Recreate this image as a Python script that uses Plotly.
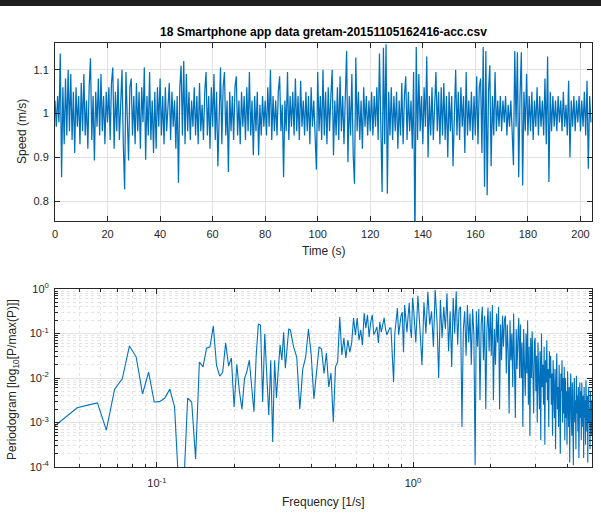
import numpy as np
import plotly.graph_objects as go

TITLE = "18 Smartphone app data gretam-20151105162416-acc.csv"

# ---- top panel: speed (m/s), sampled every DT seconds ----
DT = 0.5
speed = [
    1.03, 0.97, 1.04, 0.98, 1.137, 0.855, 1.06, 0.93, 1.08, 0.95, 1.10, 0.96, 1.09, 0.94, 1.05, 0.91, 1.06, 0.97, 1.04, 0.93,
    1.07, 0.96, 1.09, 0.95, 1.03, 0.92, 1.06, 1.126, 0.94, 1.04, 0.893, 1.05, 0.97, 1.08, 0.95, 1.09, 0.96, 1.04, 0.93, 1.05,
    0.98, 1.06, 0.94, 1.07, 1.105, 0.92, 1.05, 0.96, 1.08, 0.94, 1.02, 1.10, 0.93, 0.827, 1.095, 0.97, 0.893, 1.06, 1.08, 0.95,
    1.04, 0.93, 1.07, 0.96, 1.05, 0.92, 1.06, 0.98, 1.105, 0.895, 1.04, 0.95, 1.095, 0.94, 1.03, 0.91, 1.05, 0.92, 1.06, 0.97,
    1.08, 0.95, 1.04, 0.93, 1.06, 0.96, 1.02, 1.07, 0.94, 1.05, 0.97, 1.03, 0.92, 1.04, 0.842, 1.06, 1.109, 0.95, 1.12, 0.93,
    1.09, 0.96, 1.05, 0.94, 1.03, 0.97, 1.06, 0.95, 1.04, 0.93, 1.07, 0.96, 1.02, 0.94, 1.05, 1.095, 0.95, 1.04, 0.92, 1.06,
    0.97, 1.09, 0.94, 1.05, 0.88, 1.02, 1.105, 0.93, 1.06, 1.095, 0.95, 1.03, 0.867, 1.05, 0.96, 1.04, 0.94, 1.06, 1.085, 0.95,
    1.03, 0.93, 1.05, 0.97, 1.04, 0.94, 1.06, 0.96, 1.095, 0.95, 1.03, 0.905, 1.04, 0.96, 1.05, 0.905, 1.02, 0.95, 1.04, 0.97,
    1.03, 0.95, 1.06, 0.97, 1.10, 0.94, 1.04, 0.96, 1.03, 0.95, 1.05, 1.085, 0.96, 1.02, 0.855, 1.03, 0.96, 1.095, 0.94, 1.04,
    0.97, 1.05, 0.95, 1.08, 0.96, 1.04, 0.94, 1.075, 0.97, 1.03, 0.95, 1.05, 0.96, 1.04, 0.93, 1.06, 0.97, 1.03, 0.95, 0.872,
    1.095, 0.96, 1.04, 0.94, 1.10, 0.95, 1.05, 0.93, 1.06, 0.96, 1.04, 1.10, 0.905, 1.03, 0.95, 1.06, 0.94, 1.085, 0.96, 1.04,
    0.93, 1.05, 1.143, 0.889, 1.04, 0.95, 1.09, 0.905, 0.84, 1.128, 0.96, 1.05, 0.94, 1.03, 0.92, 1.06, 0.97, 1.04, 0.95, 1.03,
    0.96, 1.05, 0.95, 1.04, 0.97, 1.06, 0.94, 1.137, 0.96, 0.821, 1.15, 0.93, 1.158, 0.817, 1.05, 0.95, 1.06, 0.94, 1.04, 0.96,
    1.05, 0.92, 1.03, 0.95, 1.07, 0.93, 1.04, 1.085, 0.94, 1.05, 0.96, 1.03, 0.92, 1.095, 0.70, 1.152, 0.94, 1.09, 0.96, 1.04,
    0.93, 1.06, 0.97, 1.13, 0.90, 1.04, 0.95, 1.06, 0.94, 1.03, 1.095, 0.96, 1.05, 0.93, 1.06, 0.95, 1.07, 0.94, 1.04, 0.90,
    1.05, 0.96, 1.04, 0.88, 1.03, 1.10, 0.95, 1.05, 0.94, 1.06, 0.97, 1.04, 0.91, 1.095, 0.95, 1.03, 0.96, 1.05, 0.94, 1.04,
    0.95, 1.085, 0.93, 1.06, 1.08, 0.91, 1.152, 0.833, 1.143, 0.814, 1.05, 1.11, 0.88, 1.04, 0.95, 1.095, 0.96, 1.03, 0.97, 1.04,
    0.96, 1.03, 0.98, 1.04, 0.95, 1.02, 0.97, 1.03, 0.96, 0.882, 1.143, 0.97, 1.14, 0.855, 1.04, 1.14, 0.836, 1.05, 0.96, 1.09,
    0.95, 1.04, 0.96, 1.05, 0.94, 1.03, 0.97, 1.06, 0.95, 1.04, 0.97, 1.03, 0.95, 1.08, 0.93, 1.13, 0.844, 1.05, 0.96, 1.04,
    0.97, 1.03, 0.96, 1.04, 0.98, 1.03, 0.96, 1.05, 0.97, 1.02, 0.95, 1.075, 0.90, 1.03, 0.97, 1.04, 0.96, 1.03, 0.98, 1.04,
    0.96, 1.03, 0.97, 1.05, 0.95, 1.075, 0.874, 1.04, 0.98,
]
time_s = np.arange(len(speed)) * DT

# ---- bottom panel: periodogram, log10(P/max(P)) read per frequency bin ----
DF = 1 / 204.8
logp_low = [  # every bin, k = 8..67
    -3.12, -2.88, -2.67, -2.61, -2.56, -3.17, -2.25, -2.02, -1.28, -1.53,
    -2.36, -1.87, -2.54, -2.53, -2.45, -2.25, -2.65, -4.6, -4.6, -2.45,
    -2.54, -3.82, -1.64, -1.75, -1.33, -1.30, -0.83, -1.71, -1.96, -1.87,
    -1.21, -1.73, -1.55, -2.65, -1.69, -2.30, -2.70, -2.02, -1.85, -1.60,
    -2.20, -2.76, -1.50, -0.79, -0.81, -2.54, -1.01, -2.00, -2.83, -1.60,
    -3.44, -1.60, -2.45, -1.80, -1.26, -1.60, -0.97, -1.78, -1.30, -0.90,
]
logp_mid = [  # every 2nd bin, k = 68..204
    -0.92, -1.30, -1.53, -2.70, -1.80, -1.53, -0.90, -1.48, -2.47, -1.85,
    -1.30, -1.35, -1.90, -1.44, -2.20, -1.89, -2.99, -1.75, -1.64, -0.63,
    -1.48, -1.10, -1.55, -1.15, -1.42, -1.21, -0.65, -1.03, -0.65, -1.15,
    -0.92, -1.26, -0.54, -0.88, -0.58, -1.08, -0.75, -0.58, -1.03, -0.95,
    -0.85, -1.21, -0.74, -0.97, -0.80, -0.65, -0.90, -1.03, -0.95, -0.88,
    -0.88, -1.40, -2.09, -0.99, -0.70, -0.43, -1.03, -0.80, -0.60, -0.52,
    -1.42, -0.36, -0.80, -0.97, -0.60, -0.31, -0.90, -1.10, -0.20,
]
logp_high = [  # every 4th bin, k = 206..1022
    -0.45, -1.2, -0.15, -0.9, -1.71, -0.3, -1.0, -0.07, -0.8,
    -0.5, -1.3, -0.02, -0.7, -2.0, -0.25, -1.1, -0.4,
    -0.9, -0.1, -1.4, -0.5, -1.75, -0.2, -1.0, -0.05, -1.25, -0.45,
    -0.4, -3.1, -0.9, -0.5, -1.5, -0.36, -1.2, -0.55, -1.7, -0.45, -1.0,
    -3.96, -0.5, -1.3, -0.45, -2.5, -0.8, -0.4, -1.6, -0.6, -2.7, -0.9, -0.42, -1.4,
    -0.5, -1.5, -0.36, -2.5, -0.9, -1.7, -0.55, -1.2, -0.4, -2.7, -0.8, -1.6, -0.6, -1.3, -0.7,
    -0.6, -1.9, -0.8, -1.4, -2.8, -0.7, -1.6, -1.0, -2.2, -0.55, -1.5, -2.9, -0.9, -1.8, -1.1, -0.65, -2.0,
    -0.8, -2.0, -1.2, -3.1, -0.9, -1.7, -2.4, -1.0, -1.9, -0.7, -2.6, -1.3, -3.3, -1.1, -2.0, -0.95, -1.6, -2.8, -1.2,
    -1.1, -2.3, -1.5, -3.0, -1.2, -2.0, -2.7, -1.4, -3.4, -1.0, -2.2, -1.7, -2.6, -1.3, -3.5, -1.6, -2.1, -1.15, -2.5, -1.8, -3.1, -1.4, -2.0,
    -1.5, -2.6, -1.9, -3.3, -1.6, -2.4, -2.9, -1.8, -3.6, -2.1, -1.45, -2.7, -2.2, -3.1, -1.7, -2.5, -3.7, -1.9, -2.3, -1.6, -3.0, -2.0, -2.8, -1.75, -3.4,
    -2.0, -2.9, -2.3, -3.5, -1.85, -2.6, -3.1, -2.2, -3.9, -2.4, -1.9, -2.8, -3.3, -2.1, -2.7, -3.96, -2.3, -2.0, -3.0, -2.5, -3.6, -1.95, -2.8, -2.4, -3.2, -2.2, -3.8, -2.6, -2.1,
    -2.9, -2.3, -3.4, -2.1, -2.7, -3.1, -2.4, -3.8, -2.2, -2.9, -2.5, -3.5, -2.05, -2.8, -3.2, -2.4, -3.9, -2.6, -2.2, -3.0, -2.7, -3.6, -2.3, -2.9, -3.3, -2.5,
]
k_low = np.arange(8, 8 + len(logp_low))
k_mid = np.arange(68, 68 + 2 * len(logp_mid), 2)
k_high = np.arange(206, 206 + 4 * len(logp_high), 4)
freq = np.concatenate([k_low, k_mid, k_high]) * DF
pgram = 10.0 ** np.array(logp_low + logp_mid + logp_high)

# ---- figure ----
W, H = 601, 517
ML, MR, MT, MB = 55, 9, 43, 50
PH = H - MT - MB
PW = W - ML - MR


def py2paper(py):
    return (H - MB - py) / PH


def px2paper(px):
    return (px - ML) / PW


BLUE = "#0072BD"
AX = "#262626"
GRID = "#e2e2e2"
FONT = "Liberation Sans, Arial, Helvetica, sans-serif"

fig = go.Figure()
fig.add_trace(go.Scatter(x=time_s, y=speed, mode="lines",
                         line=dict(color=BLUE, width=1.25), xaxis="x", yaxis="y",
                         showlegend=False, hoverinfo="skip"))
fig.add_trace(go.Scatter(x=freq, y=pgram, mode="lines",
                         line=dict(color=BLUE, width=1.1), xaxis="x2", yaxis="y2",
                         showlegend=False, hoverinfo="skip"))

base = dict(showline=True, linecolor=AX, linewidth=1, mirror="ticks",
            ticks="inside", ticklen=5, tickcolor=AX, tickwidth=1,
            showgrid=True, gridcolor=GRID, gridwidth=1, zeroline=False,
            tickfont=dict(family=FONT, size=11, color=AX))

dec_minor = [m * 10.0 ** e for e in range(-5, 1) for m in range(2, 10)]
minor = dict(tickvals=dec_minor, ticks="inside", ticklen=3, tickcolor=AX,
             showgrid=True, gridcolor="#e4e4e4", griddash="dot", gridwidth=1)

fig.update_layout(
    width=W, height=H,
    margin=dict(l=ML, r=MR, t=MT, b=MB),
    paper_bgcolor="white", plot_bgcolor="white",
    font=dict(family=FONT, size=11, color=AX),
    xaxis=dict(base, domain=[0, 1], anchor="y", range=[0, 204.4],
               tick0=0, dtick=20, ticklabelstandoff=3),
    yaxis=dict(base, domain=[py2paper(221), 1], anchor="x",
               range=[0.755, 1.161], tickvals=[0.8, 0.9, 1.0, 1.1],
               ticktext=["0.8", "0.9", "1", "1.1"], ticklabelstandoff=3),
    xaxis2=dict(base, domain=[0, 1], anchor="y2", type="log",
                range=[np.log10(0.04), np.log10(5.0)],
                tickvals=[0.1, 1.0], ticklabelstandoff=6,
                ticktext=["10<sup>-1</sup>", "10<sup>0</sup>"], minor=minor),
    yaxis2=dict(base, domain=[0, py2paper(289)], anchor="x2", type="log",
                range=[-4, 0], ticklabelstandoff=3,
                tickvals=[1e-4, 1e-3, 1e-2, 1e-1, 1.0],
                ticktext=["10<sup>-4</sup>", "10<sup>-3</sup>", "10<sup>-2</sup>",
                          "10<sup>-1</sup>", "10<sup>0</sup>"], minor=minor),
)

ann = []
ann.append(dict(text="<b>" + TITLE + "</b>", xref="paper", yref="paper",
                x=0.5, y=py2paper(32), xanchor="center", yanchor="middle",
                showarrow=False, font=dict(family=FONT, size=12, color="#000")))
ann.append(dict(text="Time (s)", xref="paper", yref="paper",
                x=0.5, y=py2paper(251), xanchor="center", yanchor="middle",
                showarrow=False, font=dict(family=FONT, size=12, color=AX)))
ann.append(dict(text="Frequency [1/s]", xref="paper", yref="paper",
                x=0.5, y=py2paper(502), xanchor="center", yanchor="middle",
                showarrow=False, font=dict(family=FONT, size=12, color=AX)))
ann.append(dict(text="Speed (m/s)", xref="paper", yref="paper",
                x=px2paper(22), y=py2paper(132), xanchor="center", yanchor="middle",
                textangle=-90, showarrow=False, font=dict(family=FONT, size=12, color=AX)))
ann.append(dict(text="Periodogram [log<sub>10</sub>[P/max(P)]]", xref="paper", yref="paper",
                x=px2paper(13), y=py2paper(380), xanchor="center", yanchor="middle",
                textangle=-90, showarrow=False, font=dict(family=FONT, size=12, color=AX)))
fig.update_layout(annotations=ann)

# dark strip along the very top of the reference picture
fig.add_shape(type="rect", xref="paper", yref="paper",
              x0=px2paper(-5), x1=px2paper(W + 5), y0=py2paper(6), y1=py2paper(-5),
              fillcolor="#1f1f1f", line=dict(width=0), layer="above")

fig.write_html("out.html")
